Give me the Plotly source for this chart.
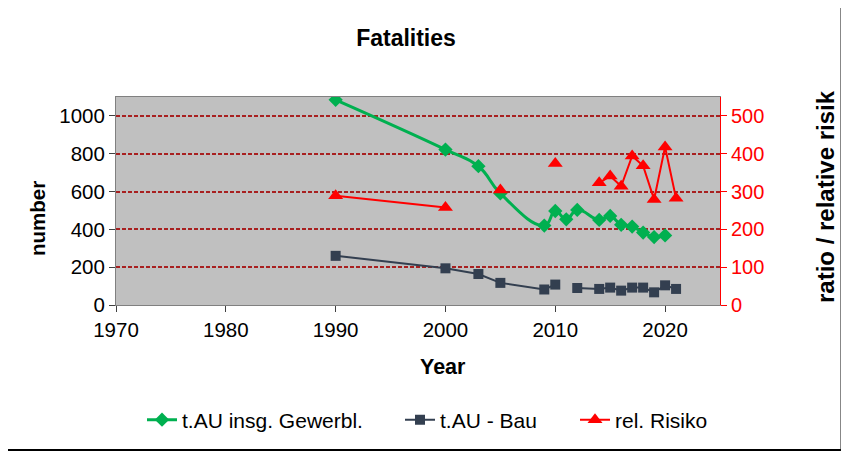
import plotly.graph_objects as go

years = [1990, 2000, 2003, 2005, 2009, 2010, 2011, 2012, 2014, 2015, 2016, 2017, 2018, 2019, 2020, 2021]
gewerbl = [1085, 822, 734, 590, 420, 497, 453, 503, 450, 471, 424, 415, 383, 359, 368, None]
bau = [260, 194, 164, 117, 82, 108, None, 90, 85, 92, 76, 92, 92, 67, 104, 85]
risiko = [289, 258, None, 304, None, 374, None, None, 323, 341, 314, 394, 368, 279, 418, 282]

x_ticks = [1970, 1980, 1990, 2000, 2010, 2020]
left_ticks = [0, 200, 400, 600, 800, 1000]
right_ticks = [0, 100, 200, 300, 400, 500]

FONT = "Arial, Liberation Sans, sans-serif"
OFF = 8  # page body margin
W, H = 849 - OFF, 455 - OFF
# plot area in page pixels
PX0, PX1, PY0, PY1 = 116, 720, 97, 305
L, R, T, B = PX0 - OFF, (849 - PX1), PY0 - OFF, (455 - PY1)
pw, ph = PX1 - PX0, PY1 - PY0


def px(x):
    return (x - PX0) / pw


def py(y):
    return (PY1 - y) / ph


fig = go.Figure()
fig.add_trace(go.Scatter(
    x=years, y=gewerbl, name="t.AU insg. Gewerbl.", mode="lines+markers",
    line=dict(color="#00B050", width=3, shape="spline", smoothing=1.3),
    marker=dict(symbol="diamond", size=11, color="#00B050"),
    connectgaps=False, legend="legend"))
fig.add_trace(go.Scatter(
    x=years, y=bau, name="t.AU - Bau", mode="lines+markers",
    line=dict(color="#333F50", width=2),
    marker=dict(symbol="square", size=10, color="#333F50"),
    connectgaps=False, legend="legend2"))
fig.add_trace(go.Scatter(
    x=years, y=risiko, name="rel. Risiko", mode="lines+markers", yaxis="y2",
    line=dict(color="#FF0000", width=2),
    marker=dict(symbol="triangle-up", size=13, color="#FF0000"),
    connectgaps=False, legend="legend3"))

leg_common = dict(orientation="h", yanchor="middle", xanchor="left",
                  font=dict(size=21, family=FONT), bgcolor="rgba(0,0,0,0)",
                  itemwidth=30, borderwidth=0, y=py(420))

fig.update_layout(
    width=W, height=H,
    margin=dict(l=L, r=R, t=T, b=B, pad=0, autoexpand=False),
    paper_bgcolor="white", plot_bgcolor="#C0C0C0",
    font=dict(family=FONT, size=20, color="black"),
    title=dict(text="<b>Fatalities</b>", x=px(406), xanchor="center", xref="paper",
               y=1 - (38 - OFF) / H, yanchor="middle", font=dict(size=23, family=FONT)),
    xaxis=dict(range=[1970, 2025], tickvals=x_ticks, ticktext=[str(v) for v in x_ticks],
               showgrid=False, zeroline=False, showline=True, linecolor="#808080",
               linewidth=1, mirror=True, ticks="outside", ticklen=6, tickcolor="#404040",
               tickfont=dict(size=20.5), automargin=False),
    yaxis=dict(range=[0, 1100], tickvals=left_ticks, showgrid=True, gridcolor="#A82020",
               griddash="4px,2px", gridwidth=1.5, zeroline=False, showline=True,
               linecolor="#808080", linewidth=1, ticks="outside", ticklen=6,
               tickcolor="#404040", tickfont=dict(size=20.5), automargin=False),
    yaxis2=dict(range=[0, 550], tickvals=right_ticks, ticksuffix="%", overlaying="y",
                side="right", showgrid=False, zeroline=False, showline=True,
                linecolor="#FF0000", linewidth=1, ticks="outside", ticklen=6,
                tickcolor="#FF0000", tickfont=dict(size=20, color="#FF0000"),
                automargin=False),
    legend=dict(x=px(142), **leg_common),
    legend2=dict(x=px(400), **leg_common),
    legend3=dict(x=px(575), **leg_common),
    showlegend=True,
)

# axis titles
fig.add_annotation(text="<b>number</b>", xref="paper", yref="paper", x=px(37), y=py(219),
                   textangle=-90, showarrow=False, font=dict(size=20.5),
                   xanchor="center", yanchor="middle")
fig.add_annotation(text="<b>ratio / relative risik</b>", xref="paper", yref="paper",
                   x=px(825), y=py(197), textangle=-90, showarrow=False,
                   font=dict(size=24), xanchor="center", yanchor="middle")
fig.add_annotation(text="<b>Year</b>", xref="paper", yref="paper", x=px(443), y=py(367),
                   showarrow=False, font=dict(size=21.5), xanchor="center", yanchor="middle")

# outer chart frame (right and bottom edges visible)
fig.add_shape(type="line", xref="paper", yref="paper",
              x0=px(-5), x1=px(842), y0=py(450), y1=py(450),
              line=dict(color="black", width=2), layer="above")
fig.add_shape(type="line", xref="paper", yref="paper",
              x0=px(842), x1=px(842), y0=py(451), y1=py(-5),
              line=dict(color="#111111", width=3), layer="above")

fig.write_html("out.html")
